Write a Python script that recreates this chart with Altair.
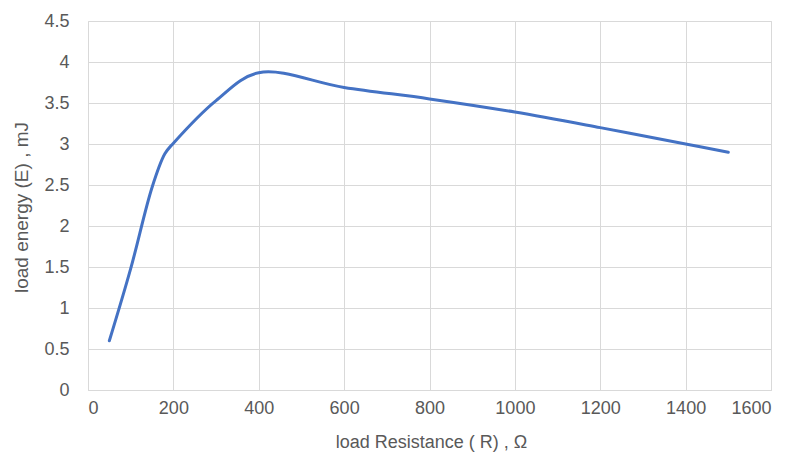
import altair as alt
import pandas as pd

resistance = [50, 100, 150, 180, 200, 300, 400, 600, 800, 1000, 1200, 1400, 1500]
energy = [0.6, 1.48, 2.47, 2.88, 3.01, 3.53, 3.87, 3.69, 3.55, 3.39, 3.20, 3.0, 2.9]

x_ticks = [0, 200, 400, 600, 800, 1000, 1200, 1400, 1600]
y_ticks = [0, 0.5, 1, 1.5, 2, 2.5, 3, 3.5, 4, 4.5]

df = pd.DataFrame({"R": resistance, "E": energy})

FONT = "Liberation Sans, sans-serif"
GRID = "#D9D9D9"
TXT = "#595959"

chart = alt.Chart(df).mark_line(
    interpolate="catmull-rom", color="#4472C4", strokeWidth=3, strokeCap="round"
).encode(
    x=alt.X("R:Q", scale=alt.Scale(domain=[0, 1600], nice=False),
            axis=alt.Axis(values=x_ticks, format="d", title="load Resistance ( R) , Ω",
                          grid=True, gridColor=GRID, domainColor=GRID, ticks=False,
                          labelPadding=9, labelFontSize=18, labelColor=TXT, labelFont=FONT,
                          titleFont=FONT, titleFontSize=18, titleFontWeight="normal", titleColor=TXT,
                          titleX=343, titleY=52, titleBaseline="middle", titleAlign="center")),
    y=alt.Y("E:Q", scale=alt.Scale(domain=[0, 4.5], nice=False),
            axis=alt.Axis(values=y_ticks, format="~g", title="load energy (E) , mJ",
                          grid=True, gridColor=GRID, domain=False, ticks=False,
                          labelPadding=19, labelFontSize=18, labelColor=TXT, labelFont=FONT,
                          titleFont=FONT, titleFontSize=19, titleFontWeight="normal", titleColor=TXT,
                          titleX=-67, titleY=186, titleAngle=270, titleBaseline="middle", titleAlign="center")),
).properties(
    width=683, height=369,
    autosize=alt.AutoSizeParams(type="none"),
    padding={"left": 80, "top": 13, "right": 17, "bottom": 63},
).configure_view(stroke=None).configure(background="white")

chart.save("out.html", embed_options={"renderer": "svg", "actions": False})
